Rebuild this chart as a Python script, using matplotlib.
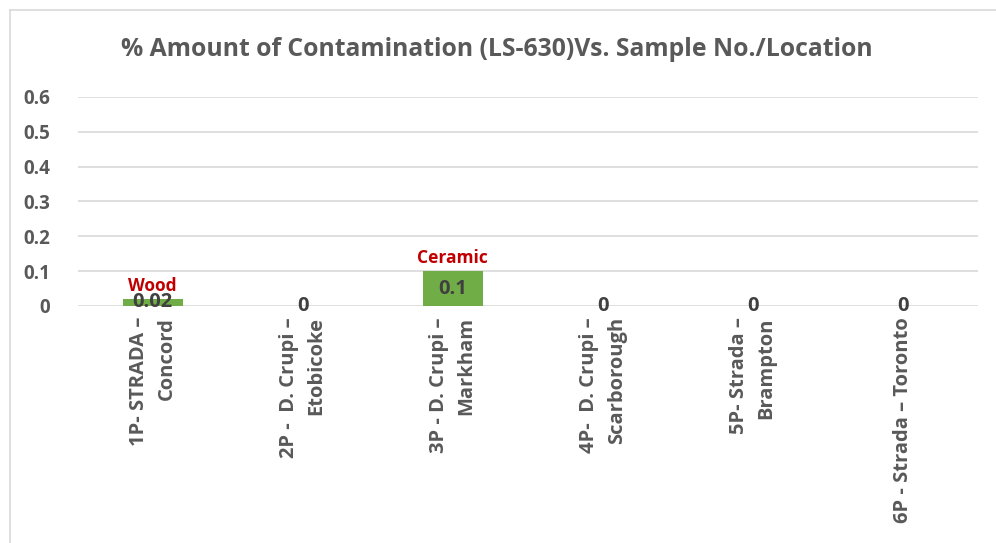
import matplotlib.pyplot as plt
from matplotlib.lines import Line2D

# data
locations = ["1P- STRADA \u2013\nConcord", "2P -  D. Crupi \u2013\nEtobicoke",
             "3P - D. Crupi \u2013\nMarkham", "4P-  D. Crupi \u2013\nScarborough",
             "5P- Strada \u2013\nBrampton", "6P - Strada \u2013 Toronto"]
contamination = [0.02, 0, 0.1, 0, 0, 0]
materials = ["Wood", "", "Ceramic", "", "", ""]
yticks = [0, 0.1, 0.2, 0.3, 0.4, 0.5, 0.6]

plt.rcParams['font.family'] = ['Open Sans', 'DejaVu Sans']
plt.rcParams['font.weight'] = 'bold'
grey = '#595959'

fig = plt.figure(figsize=(9.96, 5.43), dpi=100)
ax = fig.add_axes([0.078, 0.4365, 0.904, 0.3849])

x = range(len(locations))
bars = ax.bar(x, contamination, width=0.4, color='#70AD47', zorder=3)
ax.bar_label(bars, labels=[str(v) for v in contamination], label_type='center',
             fontsize=14.5, fontweight='bold', color='#404040', zorder=4)

for i, m in enumerate(materials):
    if m:
        ax.text(i, contamination[i] + 0.011, m, ha='center', va='bottom',
                color='#C00000', fontsize=12.5, fontweight='bold')

ax.set_ylim(0, 0.6)
ax.set_xlim(-0.5, len(locations) - 0.5)
ax.set_yticks(yticks)
ax.set_yticklabels([str(t) for t in yticks])
ax.set_xticks(list(x))
ax.set_xticklabels(locations, rotation=90, ha='center', va='top',
                   multialignment='right', linespacing=1.5)
ax.tick_params(axis='y', length=0, pad=20, labelsize=13.5, labelcolor=grey)
ax.tick_params(axis='x', length=0, pad=8, labelsize=14.5, labelcolor=grey)
ax.grid(axis='y', color='#D9D9D9', linewidth=1.2, zorder=0)
for s in ax.spines.values():
    s.set_visible(False)

fig.text(497/996, 1 - 50/543, "% Amount of Contamination (LS-630)Vs. Sample No./Location",
         ha='center', va='center', fontsize=17.8, fontweight='bold', color=grey)

# chart frame
fig.add_artist(Line2D([10/996, 10/996], [0, 1 - 10/543], transform=fig.transFigure,
                      color='#D9D9D9', linewidth=1.2))
fig.add_artist(Line2D([10/996, 1], [1 - 10/543, 1 - 10/543], transform=fig.transFigure,
                      color='#D9D9D9', linewidth=1.2))

fig.savefig('out.png', dpi=100)
